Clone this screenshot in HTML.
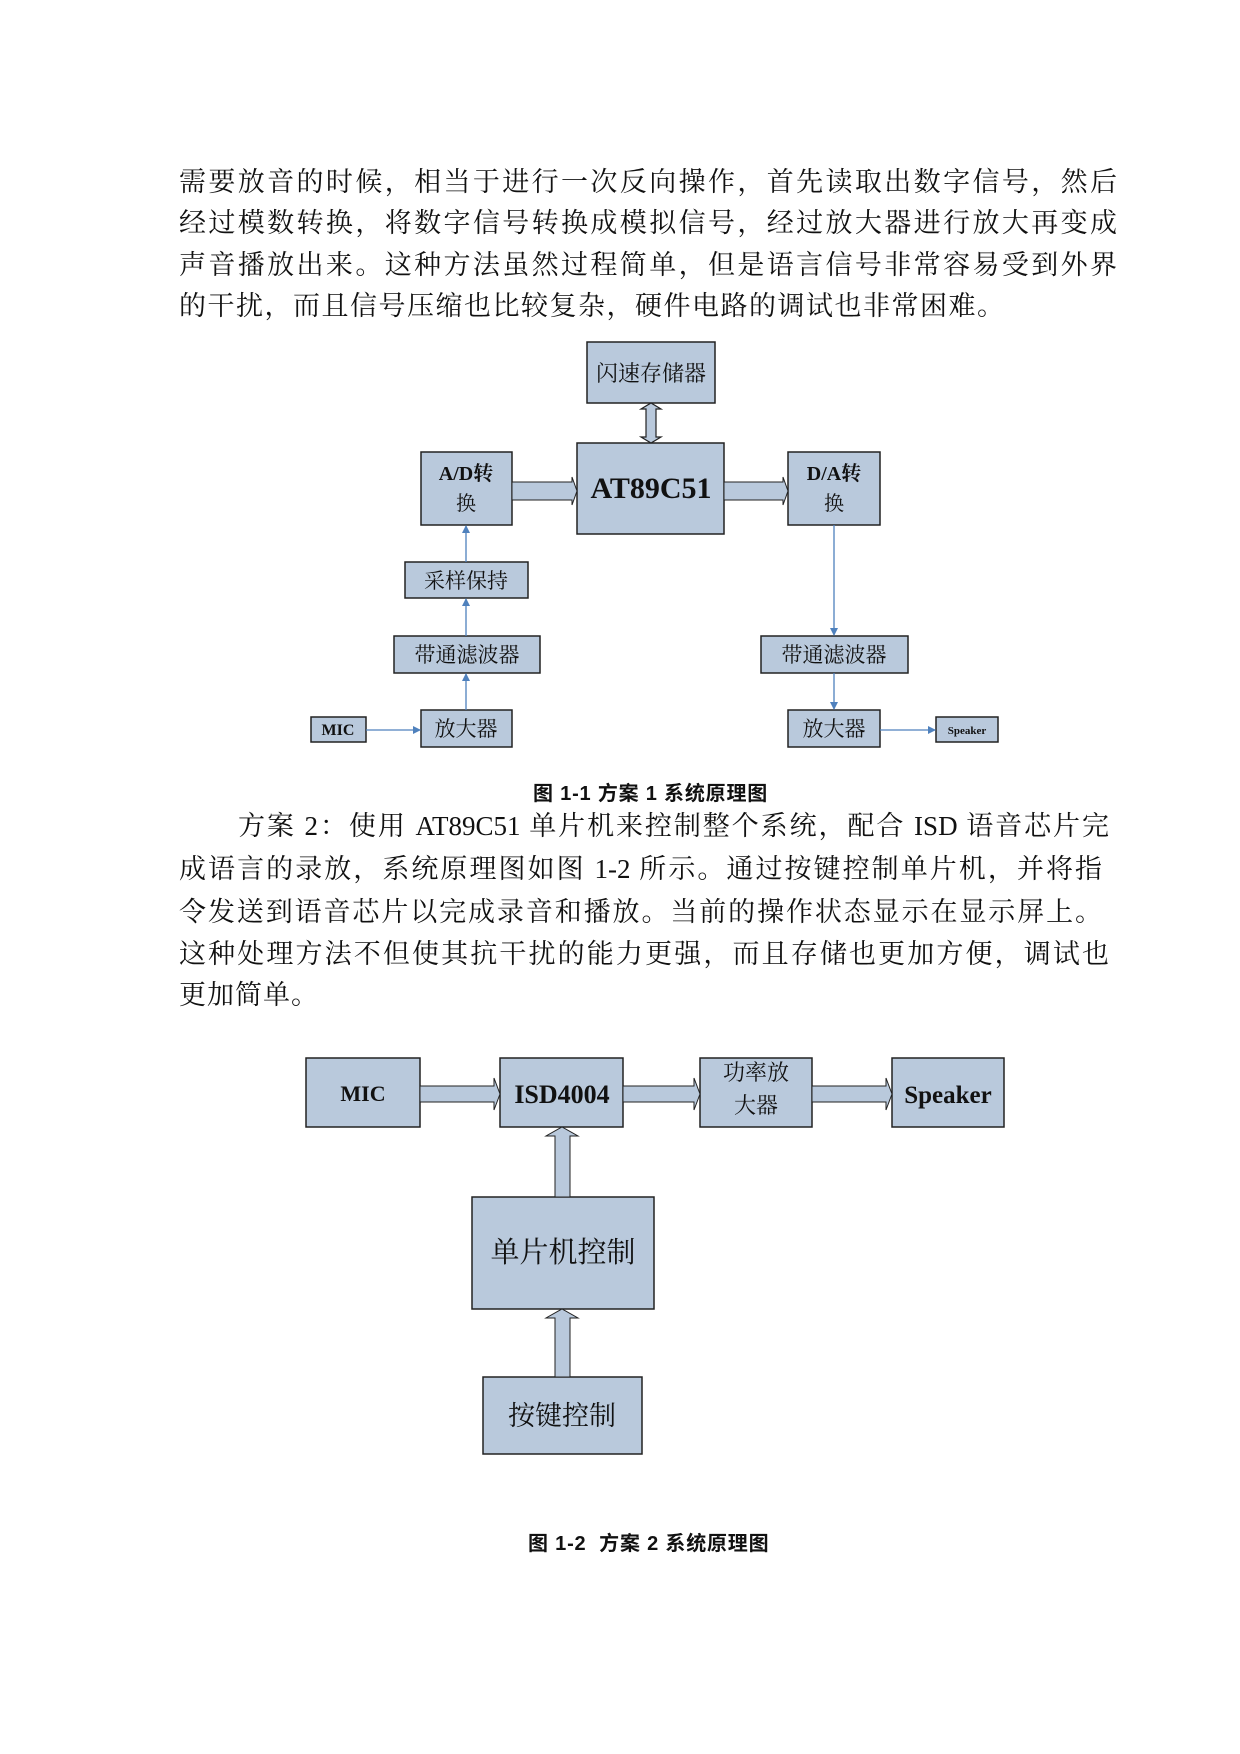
<!DOCTYPE html>
<html><head><meta charset="utf-8"><style>
html,body{margin:0;padding:0;background:#fff;}
body{width:1240px;height:1754px;position:relative;overflow:hidden;}
.l{position:absolute;left:179px;width:938px;font-family:"Liberation Serif","Noto Serif CJK SC",serif;font-size:27px;line-height:36px;color:#111;white-space:nowrap;text-align:justify;text-align-last:justify;}
.cap{position:absolute;font-family:"Liberation Sans","Noto Sans CJK SC",sans-serif;font-size:20px;font-weight:bold;color:#111;white-space:nowrap;letter-spacing:0.8px;}
svg{position:absolute;left:0;top:0;}
svg text{font-family:"Liberation Serif","Noto Serif CJK SC",serif;fill:#111;}
</style></head><body>
<div class="l" style="top:164px">需要放音的时候，相当于进行一次反向操作，首先读取出数字信号，然后</div>
<div class="l" style="top:205px">经过模数转换，将数字信号转换成模拟信号，经过放大器进行放大再变成</div>
<div class="l" style="top:247px">声音播放出来。这种方法虽然过程简单，但是语言信号非常容易受到外界</div>
<div class="l" style="top:288px;text-align-last:left;letter-spacing:1.5px">的干扰，而且信号压缩也比较复杂，硬件电路的调试也非常困难。</div>
<div class="cap" style="left:533px;top:777px">图 1-1 方案 1 系统原理图</div>
<div class="l" style="top:808px;left:238px;width:871px">方案 2：使用 AT89C51 单片机来控制整个系统，配合 ISD 语音芯片完</div>
<div class="l" style="top:851px;width:923px">成语言的录放，系统原理图如图 1-2 所示。通过按键控制单片机，并将指</div>
<div class="l" style="top:894px;width:923px">令发送到语音芯片以完成录音和播放。当前的操作状态显示在显示屏上。</div>
<div class="l" style="top:936px;width:930px">这种处理方法不但使其抗干扰的能力更强，而且存储也更加方便，调试也</div>
<div class="l" style="top:977px;text-align-last:left;letter-spacing:1px">更加简单。</div>
<div class="cap" style="left:528px;top:1527px">图 1-2&nbsp; 方案 2 系统原理图</div>
<svg width="1240" height="1754">
<defs>
<marker id="a" markerWidth="8" markerHeight="8" refX="7" refY="4" orient="auto" markerUnits="userSpaceOnUse"><path d="M0,0 L8,4 L0,8 Z" fill="#4f81bd"/></marker>
</defs>
<g fill="#b9c9dc" stroke="#222" stroke-width="1.5">
<rect x="587" y="342" width="128" height="61"/>
<rect x="577" y="443" width="147" height="91"/>
<rect x="421" y="452" width="91" height="73"/>
<rect x="788" y="452" width="92" height="73"/>
<rect x="405" y="562" width="123" height="36"/>
<rect x="394" y="636" width="146" height="37"/>
<rect x="761" y="636" width="147" height="37"/>
<rect x="421" y="710" width="91" height="37"/>
<rect x="788" y="710" width="92" height="37"/>
<rect x="311" y="717" width="55" height="25"/>
<rect x="936" y="717" width="62" height="25"/>
<path d="M512,482 L572,482 L572,477 L577,491 L572,505 L572,500 L512,500 Z" stroke-width="1"/>
<path d="M724,482 L783,482 L783,477 L788,491 L783,505 L783,500 L724,500 Z" stroke-width="1"/>
<path d="M646,409 L641,409 L651,403 L661,409 L656,409 L656,437 L661,437 L651,443 L641,437 L646,437 Z" stroke-width="1.2"/>
<rect x="306" y="1058" width="114" height="69"/>
<rect x="500" y="1058" width="123" height="69"/>
<rect x="700" y="1058" width="112" height="69"/>
<rect x="892" y="1058" width="112" height="69"/>
<rect x="472" y="1197" width="182" height="112"/>
<rect x="483" y="1377" width="159" height="77"/>
<path d="M420,1086 L494,1086 L494,1078 L500,1094 L494,1110 L494,1102 L420,1102 Z" stroke-width="1"/>
<path d="M623,1086 L694,1086 L694,1078 L700,1094 L694,1110 L694,1102 L623,1102 Z" stroke-width="1"/>
<path d="M812,1086 L886,1086 L886,1078 L892,1094 L886,1110 L886,1102 L812,1102 Z" stroke-width="1"/>
<path d="M555,1197 L555,1136 L546,1136 L562,1127 L578,1136 L570,1136 L570,1197 Z" stroke-width="1"/>
<path d="M555,1377 L555,1318 L546,1318 L562,1309 L578,1318 L570,1318 L570,1377 Z" stroke-width="1"/>
</g>
<g stroke="#4f81bd" stroke-width="1.3" fill="none" marker-end="url(#a)">
<line x1="466" y1="562" x2="466" y2="526"/>
<line x1="466" y1="636" x2="466" y2="599"/>
<line x1="466" y1="710" x2="466" y2="674"/>
<line x1="366" y1="730" x2="420" y2="730"/>
<line x1="834" y1="525" x2="834" y2="635"/>
<line x1="834" y1="673" x2="834" y2="709"/>
<line x1="880" y1="730" x2="935" y2="730"/>
</g>
<g text-anchor="middle">
<text x="651" y="381" font-size="22">闪速存储器</text>
<text x="651" y="498" font-size="30" font-weight="bold">AT89C51</text>
<text x="466" y="480" font-size="20" font-weight="bold">A/D转</text>
<text x="466" y="510" font-size="20">换</text>
<text x="834" y="480" font-size="20" font-weight="bold">D/A转</text>
<text x="834" y="510" font-size="20">换</text>
<text x="466" y="588" font-size="21">采样保持</text>
<text x="467" y="662" font-size="21">带通滤波器</text>
<text x="834" y="662" font-size="21">带通滤波器</text>
<text x="466" y="736" font-size="21">放大器</text>
<text x="834" y="736" font-size="21">放大器</text>
<text x="338" y="735" font-size="16" font-weight="bold">MIC</text>
<text x="967" y="734" font-size="11" font-weight="bold">Speaker</text>
<text x="363" y="1101" font-size="22" font-weight="bold">MIC</text>
<text x="562" y="1103" font-size="26" font-weight="bold">ISD4004</text>
<text x="756" y="1080" font-size="22">功率放</text>
<text x="756" y="1113" font-size="22">大器</text>
<text x="948" y="1103" font-size="25" font-weight="bold">Speaker</text>
<text x="563" y="1262" font-size="29">单片机控制</text>
<text x="562" y="1425" font-size="27">按键控制</text>
</g>
</svg>
</body></html>
